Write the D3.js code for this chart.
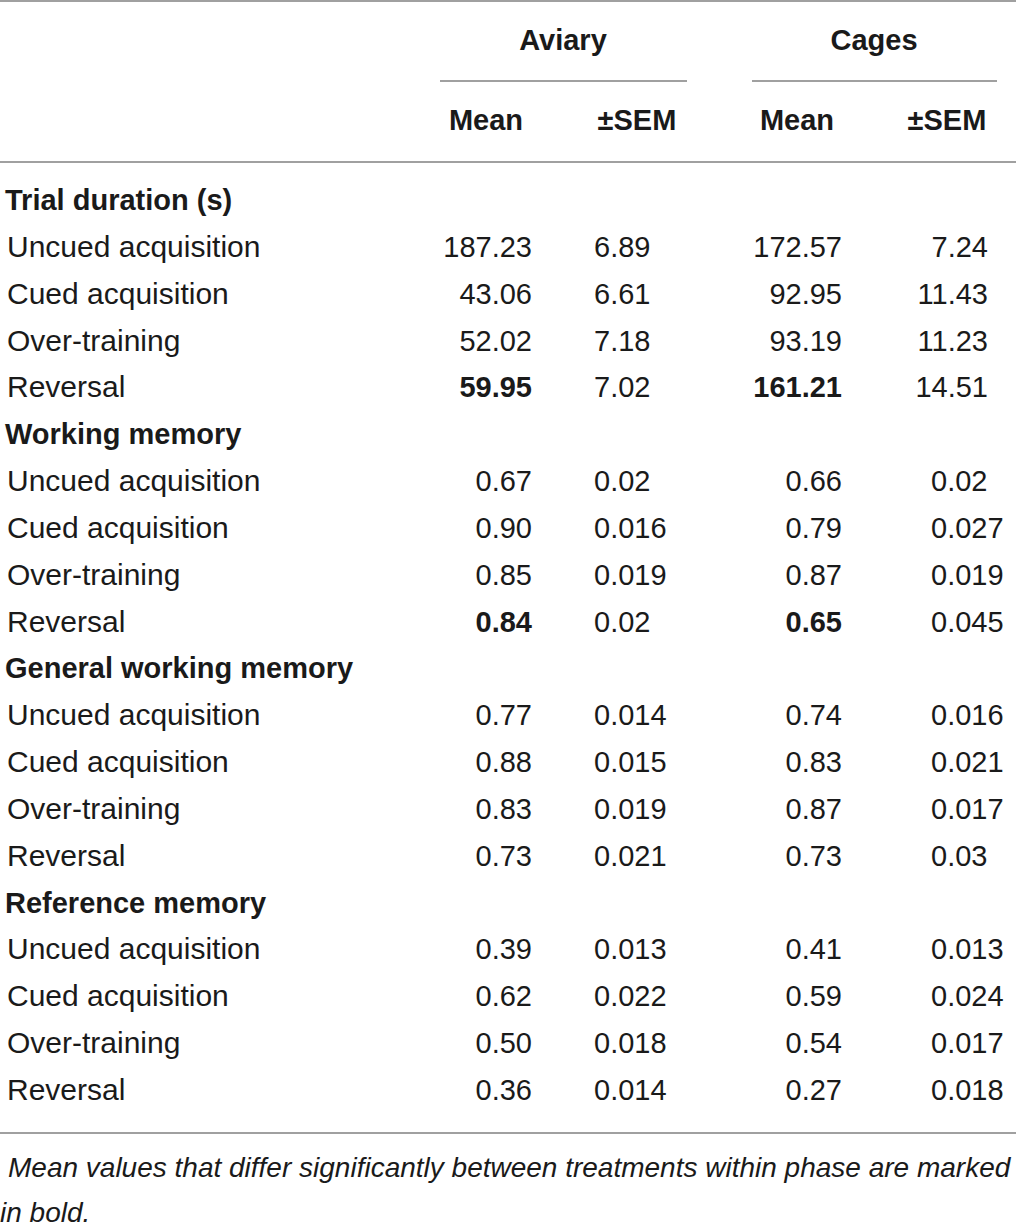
<!DOCTYPE html>
<html>
<head>
<meta charset="utf-8">
<script src="https://cdn.jsdelivr.net/npm/d3@7"></script>
<style>
  body { margin: 0; background: #fff; }
  svg text { font-family: "Liberation Sans", Arial, sans-serif; fill: #1a1a1a; }
</style>
</head>
<body>
<svg width="1016" height="1229"></svg>
<script>
// **** Table data ****

var groups = ["Aviary", "Cages"];
var subHeads = ["Mean", "\u00B1SEM", "Mean", "\u00B1SEM"];
var measures = ["Trial duration (s)", "Working memory", "General working memory", "Reference memory"];
var phases = ["Uncued acquisition", "Cued acquisition", "Over-training", "Reversal"];

// one array per column, rows in order measure x phase
var aviaryMean = ["187.23", "43.06", "52.02", "59.95",
                  "0.67", "0.90", "0.85", "0.84",
                  "0.77", "0.88", "0.83", "0.73",
                  "0.39", "0.62", "0.50", "0.36"];
var aviarySem = ["6.89", "6.61", "7.18", "7.02",
                 "0.02", "0.016", "0.019", "0.02",
                 "0.014", "0.015", "0.019", "0.021",
                 "0.013", "0.022", "0.018", "0.014"];
var cagesMean = ["172.57", "92.95", "93.19", "161.21",
                 "0.66", "0.79", "0.87", "0.65",
                 "0.74", "0.83", "0.87", "0.73",
                 "0.41", "0.59", "0.54", "0.27"];
var cagesSem = ["7.24", "11.43", "11.23", "14.51",
                "0.02", "0.027", "0.019", "0.045",
                "0.016", "0.021", "0.017", "0.03",
                "0.013", "0.024", "0.017", "0.018"];
// rows whose means are bold (significant difference)
var boldRows = [3, 7];

var footnote = ["Mean values that differ significantly between treatments within phase are marked",
                "in bold."];

// **** Build row list ****

var rows = [];
measures.forEach(function(m, mi) {
    rows.push({type: "head", label: m});
    phases.forEach(function(p, pi) {
        var k = mi * 4 + pi;
        rows.push({type: "row", label: p, k: k, trial: mi === 0,
                   bold: boldRows.indexOf(k) >= 0,
                   vals: [aviaryMean[k], aviarySem[k], cagesMean[k], cagesSem[k]]});
    });
});

// **** Scales ****

var yScale = d3.scaleLinear().domain([0, rows.length - 1]).range([200, 1090]);
var groupX = d3.scaleOrdinal().domain(groups).range([563, 874]);
var headX = d3.scaleOrdinal().domain([0, 1, 2, 3]).range([486, 637, 797, 947]);

var svg = d3.select("svg");
var fs = 29;

function rule(x1, x2, y) {
    svg.append("line")
        .attr("x1", x1).attr("x2", x2)
        .attr("y1", y).attr("y2", y)
        .style("stroke", "#a0a0a0")
        .style("stroke-width", 2);
}

rule(0, 1016, 1);
rule(440, 687, 81);
rule(752, 997, 81);
rule(0, 1016, 162);
rule(0, 1016, 1133);

// **** Headers ****

svg.selectAll(".group").data(groups).enter()
    .append("text")
    .attr("class", "group")
    .attr("x", d => groupX(d))
    .attr("y", 50)
    .attr("text-anchor", "middle")
    .style("font-size", fs + "px")
    .style("font-weight", "bold")
    .text(d => d);

svg.selectAll(".sub").data(subHeads).enter()
    .append("text")
    .attr("class", "sub")
    .attr("x", (d, i) => headX(i))
    .attr("y", 130)
    .attr("text-anchor", "middle")
    .style("font-size", fs + "px")
    .style("font-weight", "bold")
    .text(d => d);

// **** Body ****

var row = svg.selectAll(".trow").data(rows).enter()
    .append("g")
    .attr("class", "trow")
    .attr("transform", (d, i) => `translate(0,${yScale(i) + 10})`);

row.append("text")
    .attr("x", d => d.type === "head" ? 5 : 7)
    .style("font-size", d => d.type === "head" ? fs + "px" : "30px")
    .style("font-weight", d => d.type === "head" ? "bold" : "normal")
    .text(d => d.label);

var cells = row.filter(d => d.type === "row");

cells.append("text")
    .attr("x", 532).attr("text-anchor", "end")
    .style("font-size", fs + "px")
    .style("font-weight", d => d.bold ? "bold" : "normal")
    .text(d => d.vals[0]);

cells.append("text")
    .attr("x", 594).attr("text-anchor", "start")
    .style("font-size", fs + "px")
    .text(d => d.vals[1]);

cells.append("text")
    .attr("x", 842).attr("text-anchor", "end")
    .style("font-size", fs + "px")
    .style("font-weight", d => d.bold ? "bold" : "normal")
    .text(d => d.vals[2]);

cells.append("text")
    .attr("x", d => d.trial ? 988 : 931)
    .attr("text-anchor", d => d.trial ? "end" : "start")
    .style("font-size", fs + "px")
    .text(d => d.vals[3]);

// **** Footnote ****

svg.selectAll(".note").data(footnote).enter()
    .append("text")
    .attr("class", "note")
    .attr("x", (d, i) => i === 0 ? 8 : 0)
    .attr("y", (d, i) => 1177 + i * 45)
    .style("font-size", "28px")
    .style("font-style", "italic")
    .text(d => d);
</script>
</body>
</html>
